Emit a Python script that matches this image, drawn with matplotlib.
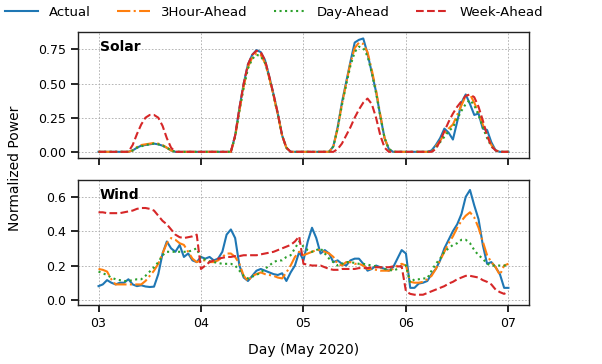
import numpy as np
import matplotlib
matplotlib.use("Agg")
from matplotlib import pyplot as plt

# hourly values, 3 May 00:00 .. 7 May 00:00
z7 = [0, 0, 0, 0, 0, 0, 0]

solar_actual = (z7 + [0, 0.01, 0.03, 0.045, 0.05, 0.055, 0.06, 0.055, 0.045, 0.03, 0.01, 0, 0, 0, 0, 0, 0]
                + z7 + [0, 0.12, 0.32, 0.5, 0.64, 0.71, 0.745, 0.73, 0.67, 0.55, 0.42, 0.28, 0.12, 0.03, 0, 0, 0]
                + [0, 0, 0, 0, 0, 0, 0, 0.04, 0.18, 0.36, 0.51, 0.66, 0.8, 0.82, 0.83, 0.72, 0.58, 0.44, 0.26, 0.1, 0.02, 0, 0, 0]
                + [0, 0, 0, 0, 0, 0, 0.01, 0.05, 0.1, 0.17, 0.14, 0.09, 0.22, 0.36, 0.42, 0.35, 0.27, 0.28, 0.17, 0.16, 0.07, 0.01, 0, 0]
                + [0])
solar_3h = (z7 + [0, 0.01, 0.035, 0.05, 0.055, 0.06, 0.065, 0.06, 0.05, 0.03, 0.01, 0, 0, 0, 0, 0, 0]
            + z7 + [0, 0.11, 0.3, 0.48, 0.62, 0.69, 0.72, 0.71, 0.65, 0.54, 0.41, 0.27, 0.12, 0.03, 0, 0, 0]
            + [0, 0, 0, 0, 0, 0, 0, 0.04, 0.17, 0.35, 0.5, 0.65, 0.76, 0.8, 0.79, 0.73, 0.6, 0.45, 0.27, 0.1, 0.02, 0, 0, 0]
            + [0, 0, 0, 0, 0, 0, 0, 0.04, 0.08, 0.13, 0.17, 0.2, 0.27, 0.34, 0.41, 0.42, 0.36, 0.29, 0.2, 0.12, 0.05, 0.01, 0, 0]
            + [0])
solar_day = (z7 + [0, 0.01, 0.03, 0.04, 0.05, 0.055, 0.06, 0.055, 0.045, 0.03, 0.01, 0, 0, 0, 0, 0, 0]
             + z7 + [0, 0.11, 0.3, 0.47, 0.61, 0.68, 0.71, 0.7, 0.65, 0.54, 0.41, 0.27, 0.12, 0.03, 0, 0, 0]
             + [0, 0, 0, 0, 0, 0, 0, 0.04, 0.17, 0.34, 0.49, 0.63, 0.73, 0.77, 0.76, 0.7, 0.58, 0.43, 0.26, 0.1, 0.02, 0, 0, 0]
             + [0, 0, 0, 0, 0, 0, 0, 0.03, 0.07, 0.11, 0.15, 0.18, 0.24, 0.3, 0.35, 0.38, 0.34, 0.27, 0.18, 0.1, 0.04, 0.01, 0, 0]
             + [0])
solar_week = (z7 + [0, 0.05, 0.13, 0.2, 0.25, 0.27, 0.27, 0.25, 0.19, 0.1, 0.03, 0, 0, 0, 0, 0, 0]
              + z7 + [0, 0.12, 0.32, 0.5, 0.64, 0.71, 0.74, 0.73, 0.67, 0.55, 0.42, 0.28, 0.12, 0.03, 0, 0, 0]
              + z7 + [0, 0.02, 0.06, 0.12, 0.18, 0.25, 0.31, 0.36, 0.39, 0.35, 0.25, 0.12, 0.03, 0, 0, 0, 0]
              + [0, 0, 0, 0, 0, 0, 0, 0.02, 0.08, 0.15, 0.22, 0.28, 0.33, 0.37, 0.41, 0.42, 0.4, 0.33, 0.23, 0.12, 0.04, 0.01, 0, 0]
              + [0])

wind_actual = [0.08, 0.09, 0.115, 0.10, 0.09, 0.10, 0.10, 0.12, 0.09, 0.08, 0.085, 0.078, 0.075, 0.077, 0.15, 0.27,
               0.34, 0.3, 0.28, 0.32, 0.25, 0.27, 0.23, 0.22, 0.25, 0.24, 0.25, 0.23, 0.24, 0.28, 0.38, 0.41,
               0.36, 0.2, 0.13, 0.11, 0.14, 0.17, 0.18, 0.17, 0.16, 0.15, 0.145, 0.155, 0.11, 0.16, 0.2, 0.28,
               0.23, 0.34, 0.42, 0.36, 0.27, 0.29, 0.27, 0.22, 0.23, 0.21, 0.2, 0.23, 0.24, 0.24, 0.21, 0.17,
               0.18, 0.2, 0.19, 0.18, 0.17, 0.19, 0.24, 0.29, 0.27, 0.07, 0.07, 0.095, 0.1, 0.11, 0.15, 0.18,
               0.23, 0.3, 0.35, 0.4, 0.44, 0.5, 0.6, 0.64, 0.55, 0.47, 0.32, 0.21, 0.22, 0.19, 0.15, 0.07, 0.07]
wind_3h = [0.18, 0.175, 0.165, 0.12, 0.09, 0.09, 0.09, 0.09, 0.09, 0.09, 0.09, 0.11, 0.14, 0.17, 0.21, 0.27,
           0.33, 0.36, 0.35, 0.33, 0.32, 0.28, 0.24, 0.22, 0.23, 0.23, 0.22, 0.22, 0.23, 0.25, 0.27, 0.27,
           0.25, 0.21, 0.14, 0.11, 0.14, 0.15, 0.16, 0.15, 0.145, 0.14, 0.13, 0.125, 0.16, 0.2, 0.25, 0.28,
           0.26, 0.27, 0.28, 0.29, 0.29, 0.28, 0.27, 0.25, 0.21, 0.2, 0.22, 0.22, 0.21, 0.21, 0.2, 0.18,
           0.18, 0.175, 0.17, 0.17, 0.17, 0.18, 0.2, 0.21, 0.2, 0.105, 0.1, 0.1, 0.105, 0.12, 0.14, 0.18,
           0.23, 0.28, 0.33, 0.37, 0.42, 0.46, 0.49, 0.51, 0.48, 0.42, 0.34, 0.26, 0.22, 0.19, 0.145, 0.2, 0.21]
wind_day = [0.165, 0.155, 0.145, 0.13, 0.12, 0.115, 0.11, 0.11, 0.115, 0.12, 0.12, 0.14, 0.165, 0.19, 0.22, 0.26,
            0.28, 0.28, 0.28, 0.28, 0.28, 0.28, 0.29, 0.3, 0.24, 0.235, 0.225, 0.22, 0.215, 0.21, 0.21, 0.21,
            0.2, 0.17, 0.14, 0.125, 0.135, 0.145, 0.16, 0.18, 0.2, 0.22, 0.23, 0.23, 0.25, 0.26, 0.3, 0.34,
            0.31, 0.29, 0.28, 0.29, 0.3, 0.27, 0.24, 0.22, 0.2, 0.21, 0.22, 0.22, 0.215, 0.21, 0.21, 0.205,
            0.2, 0.195, 0.19, 0.18, 0.175, 0.17, 0.18, 0.2, 0.2, 0.1, 0.12, 0.12, 0.125, 0.125, 0.17, 0.21,
            0.24, 0.28, 0.3, 0.32, 0.33, 0.35, 0.35, 0.33, 0.29, 0.26, 0.24, 0.21, 0.2, 0.2, 0.2, 0.2, 0.2]
wind_week = [0.51, 0.51, 0.505, 0.505, 0.505, 0.505, 0.51, 0.515, 0.52, 0.53, 0.535, 0.535, 0.53, 0.52, 0.49, 0.46,
             0.44, 0.41, 0.38, 0.365, 0.36, 0.365, 0.37, 0.38, 0.18, 0.2, 0.22, 0.23, 0.24, 0.245, 0.25, 0.25,
             0.255, 0.255, 0.26, 0.26, 0.26, 0.26, 0.265, 0.27, 0.275, 0.28, 0.29, 0.3, 0.31, 0.32, 0.34, 0.37,
             0.21, 0.205, 0.2, 0.2, 0.2, 0.19, 0.18, 0.175, 0.175, 0.18, 0.18, 0.18, 0.18, 0.185, 0.185, 0.185,
             0.19, 0.19, 0.19, 0.19, 0.19, 0.195, 0.195, 0.195, 0.05, 0.035, 0.03, 0.03, 0.03, 0.04, 0.05, 0.06,
             0.07, 0.08, 0.095, 0.105, 0.12, 0.13, 0.14, 0.14, 0.135, 0.13, 0.115, 0.105, 0.09, 0.06, 0.045, 0.035, 0.05]

labels = ["Actual", "3Hour-Ahead", "Day-Ahead", "Week-Ahead"]
styles = ["-", "-.", ":", "--"]
colors = ["#1f77b4", "#ff7f0e", "#2ca02c", "#d62728"]
day_ticks = [3, 4, 5, 6, 7]
day_labels = ["03", "04", "05", "06", "07"]

t = 3 + np.arange(97) / 24.0

fig = plt.figure(figsize=(6.02, 3.64), dpi=100)
ax1 = fig.add_axes([0.1296, 0.566, 0.749, 0.346])
ax2 = fig.add_axes([0.1296, 0.162, 0.749, 0.343], sharex=ax1)

for ax, series, name in [(ax1, [solar_actual, solar_3h, solar_day, solar_week], "Solar"),
                         (ax2, [wind_actual, wind_3h, wind_day, wind_week], "Wind")]:
    for s, lab, ls, c in zip(series, labels, styles, colors):
        ax.plot(t, s, ls, color=c, lw=1.5, label=lab)
    ax.grid(True, color="#aaaaaa", linestyle=(0, (2, 2)), linewidth=0.6)
    ax.tick_params(direction="out", length=5, width=1.2, labelsize=9)
    for sp in ax.spines.values():
        sp.set_linewidth(1.0)
        sp.set_color("#222222")
    ax.text(0.048, 0.88, name, transform=ax.transAxes, fontsize=10, fontweight="bold", va="center")

ax1.set_ylim(-0.045, 0.877)
ax1.set_yticks([0, 0.25, 0.5, 0.75])
ax1.set_yticklabels(["0.00", "0.25", "0.50", "0.75"])
ax2.set_ylim(-0.03, 0.697)
ax2.set_yticks([0, 0.2, 0.4, 0.6])
ax2.set_yticklabels(["0.0", "0.2", "0.4", "0.6"])
ax2.set_xlim(2.8, 7.2)
ax2.set_xticks(day_ticks)
ax2.set_xticklabels(day_labels)
plt.setp(ax1.get_xticklabels(), visible=False)

h, l = ax1.get_legend_handles_labels()
fig.legend(h, l, loc="upper left", bbox_to_anchor=(0.0, 0.998), borderaxespad=0, ncol=4, frameon=False,
           fontsize=9.5, handlelength=2.5, columnspacing=2.0)
fig.text(0.025, 0.537, "Normalized Power", rotation=90, va="center", ha="center", fontsize=10)
fig.text(0.504, 0.038, "Day (May 2020)", va="center", ha="center", fontsize=10)

fig.savefig("out.png", dpi=100)
